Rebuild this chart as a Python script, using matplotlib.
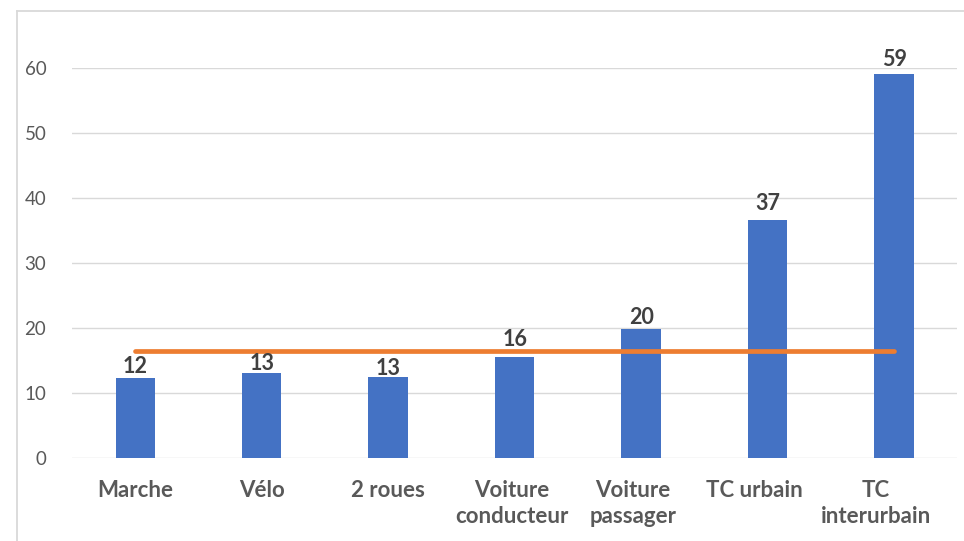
import matplotlib
matplotlib.use("Agg")
import matplotlib.pyplot as plt
from matplotlib.lines import Line2D
from matplotlib.transforms import ScaledTranslation

categories = ["Marche", "Vélo", "2 roues", "Voiture\nconducteur",
              "Voiture\npassager", "TC urbain", "TC\ninterurbain"]
values = [12.26, 13.1, 12.52, 15.52, 19.85, 36.56, 59.1]
average = 16.46
y_ticks = [0, 10, 20, 30, 40, 50, 60]

# vertical gap (px) between each bar top and its value label
label_gap_px = [5.6, 2.7, 1.3, 11.6, 5.0, 10.0, 8.0]
# horizontal shift (px) of each category label
xlabel_shift_px = [0, 0, 0, -3, -8, -13, -18]

BAR = "#4472C4"
LINE = "#ED7D31"
GRID = "#D9D9D9"
TICK = "#595959"
VAL = "#404040"
FONT = ["Lato", "DejaVu Sans"]

W, H, DPI = 964, 541, 100
fig = plt.figure(figsize=(W / DPI, H / DPI), dpi=DPI)
fig.patch.set_facecolor("white")

# chart frame: top and left edges (the rest runs off the image)
fx, fy = 17 / W, 1 - 11 / H
fig.add_artist(Line2D([fx, 1.01], [fy, fy], transform=fig.transFigure,
                      color=GRID, linewidth=1.3))
fig.add_artist(Line2D([fx, fx], [-0.01, fy], transform=fig.transFigure,
                      color=GRID, linewidth=1.3))

left, right = 72 / W, 957.3 / W
bottom, top = (H - 458) / H, (H - 68) / H
ax = fig.add_axes([left, bottom, right - left, top - bottom])

x = list(range(len(categories)))
ax.bar(x, values, width=0.312, color=BAR, zorder=2)
ax.plot([x[0], x[-1]], [average, average], color=LINE, linewidth=3.4,
        solid_capstyle="round", zorder=3)

ax.set_xlim(-0.5, len(categories) - 0.5)
ax.set_ylim(0, 60)
ax.set_yticks(y_ticks)
ax.set_yticklabels([str(t) for t in y_ticks])
ax.yaxis.grid(True, color=GRID, linewidth=1.0, zorder=0)
ax.set_axisbelow(True)
for s in ax.spines.values():
    s.set_visible(False)
ax.tick_params(axis="y", length=0, pad=18.5, labelsize=13.5, labelcolor=TICK)
ax.tick_params(axis="x", length=0, pad=15.5, labelsize=16, labelcolor=TICK)
for lab in ax.get_yticklabels():
    lab.set_family(FONT)

ax.set_xticks(x)
ax.set_xticklabels(categories, fontweight="bold", linespacing=1.3,
                   family=FONT, va="top", ha="center")
for lab, dx in zip(ax.get_xticklabels(), xlabel_shift_px):
    lab.set_transform(lab.get_transform() + ScaledTranslation(dx / DPI, 0, fig.dpi_scale_trans))

for xi, v, gap in zip(x, values, label_gap_px):
    ax.annotate(f"{v:.0f}", (xi, v), xytext=(0, gap * 72 / DPI),
                textcoords="offset points", ha="center", va="baseline",
                fontsize=15.5, fontweight="bold", color=VAL, family=FONT,
                annotation_clip=False, zorder=4)

fig.savefig("out.png", dpi=DPI, facecolor="white")
